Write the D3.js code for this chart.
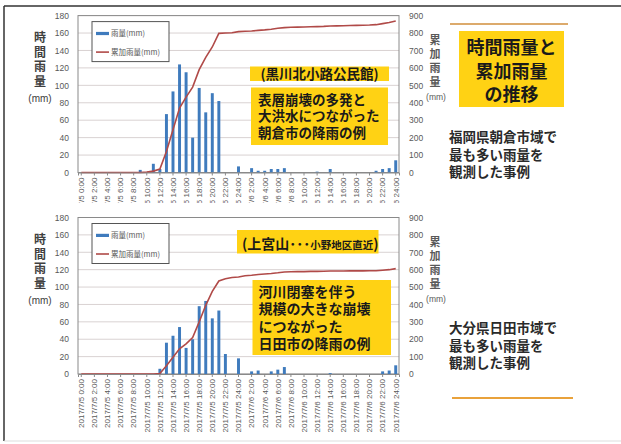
<!DOCTYPE html>
<html><head><meta charset="utf-8">
<script src="https://cdn.jsdelivr.net/npm/d3@7"></script>
<style>
html,body{margin:0;padding:0;background:#fff;}
svg{display:block;}
</style></head><body>
<svg id="c" width="621" height="444"></svg>
<script>
const categories = [
 "2017/7/5 0:00","2017/7/5 1:00","2017/7/5 2:00","2017/7/5 3:00","2017/7/5 4:00","2017/7/5 5:00","2017/7/5 6:00","2017/7/5 7:00",
 "2017/7/5 8:00","2017/7/5 9:00","2017/7/5 10:00","2017/7/5 11:00","2017/7/5 12:00","2017/7/5 13:00","2017/7/5 14:00","2017/7/5 15:00",
 "2017/7/5 16:00","2017/7/5 17:00","2017/7/5 18:00","2017/7/5 19:00","2017/7/5 20:00","2017/7/5 21:00","2017/7/5 22:00","2017/7/5 23:00",
 "2017/7/5 24:00","2017/7/6 1:00","2017/7/6 2:00","2017/7/6 3:00","2017/7/6 4:00","2017/7/6 5:00","2017/7/6 6:00","2017/7/6 7:00",
 "2017/7/6 8:00","2017/7/6 9:00","2017/7/6 10:00","2017/7/6 11:00","2017/7/6 12:00","2017/7/6 13:00","2017/7/6 14:00","2017/7/6 15:00",
 "2017/7/6 16:00","2017/7/6 17:00","2017/7/6 18:00","2017/7/6 19:00","2017/7/6 20:00","2017/7/6 21:00","2017/7/6 22:00","2017/7/6 23:00",
 "2017/7/6 24:00"
];
const tickLabels = [
 "2017/7/5 0:00","2017/7/5 2:00","2017/7/5 4:00","2017/7/5 6:00","2017/7/5 8:00","2017/7/5 10:00","2017/7/5 12:00",
 "2017/7/5 14:00","2017/7/5 16:00","2017/7/5 18:00","2017/7/5 20:00","2017/7/5 22:00","2017/7/5 24:00",
 "2017/7/6 2:00","2017/7/6 4:00","2017/7/6 6:00","2017/7/6 8:00","2017/7/6 10:00","2017/7/6 12:00",
 "2017/7/6 14:00","2017/7/6 16:00","2017/7/6 18:00","2017/7/6 20:00","2017/7/6 22:00","2017/7/6 24:00"
];
const leftTicks = [0,20,40,60,80,100,120,140,160,180];
const rightTicks = [0,100,200,300,400,500,600,700,800,900];
const seriesNames = ["雨量(mm)", "累加雨量(mm)"];

// 朝倉市 (黒川北小路公民館)
const asakuraRain = [0,0,0,0,0,0,0,0,0,3, 0,10,4,67,93,124,115,40,97,69, 91,82,0,0,7,0,5,2,2,4, 4,5,0,0,0,0,1,0,4,0, 0,0,0,0,0,2,4,5,14];
const asakuraCum  = [0,0,0,0,0,0,0,0,0,0, 2,8,20,120,245,370,432,490,590,660, 720,798,800,802,808,810,812,815,818,822, 827,831,833,834,835,836,837,838,840,841, 842,843,844,845,846,848,854,860,869];
// 日田市 (上宮山)
const hitaRain = [0,0,0,0,0,0,0,0,0,0, 0,0,6,36,44,54,30,40,78,84, 64,73,23,0,18,0,3,4,0,3, 5,8,0,0,0,0,0,0,1,0, 0,0,0,0,0,0,3,4,10];
const hitaCum  = [0,0,0,0,0,0,0,0,0,0, 0,0,3,48,96,145,173,210,300,395, 475,535,548,555,558,565,568,572,575,578, 582,587,588,589,589,590,590,591,592,592, 592,593,593,593,594,594,597,600,606];

const svg = d3.select("#c");
const JP = "'Noto Sans CJK JP','Noto Sans',sans-serif";
const NUM = "'Liberation Sans','DejaVu Sans',sans-serif";
const BAR = "#3f7bbd", LINE = "#b04a48", YEL = "#FFD214";

// outer frame
svg.append("line").attr("x1",4).attr("x2",621).attr("y1",6).attr("y2",6).attr("stroke","#333").attr("stroke-width",1.5);
svg.append("line").attr("x1",4).attr("x2",4).attr("y1",6).attr("y2",441).attr("stroke","#333").attr("stroke-width",1.5);
svg.append("line").attr("x1",4).attr("x2",621).attr("y1",441).attr("y2",441).attr("stroke","#ddd").attr("stroke-width",1);

const X0 = 78, X1 = 399;
const x = d3.scaleBand().domain(categories).range([X0, X1]).paddingInner(0.55).paddingOuter(0.275);
const cx = d => x(d) + x.bandwidth()/2;

const panels = [
  {rain: asakuraRain, cum: asakuraCum, top: 15.6, zero: 172.5, clipBottom: 203, id: "a"},
  {rain: hitaRain, cum: hitaCum, top: 217.5, zero: 374, clipBottom: 444, id: "b"}
];

panels.forEach(p => {
  const yL = d3.scaleLinear().domain([0,180]).range([p.zero, p.top]);
  const yR = d3.scaleLinear().domain([0,900]).range([p.zero, p.top]);
  const g = svg.append("g");
  // gridlines
  g.selectAll("line.grid").data(leftTicks).join("line")
    .attr("x1", X0).attr("x2", X1).attr("y1", d => yL(d)).attr("y2", d => yL(d))
    .attr("stroke", "#d9d2d2").attr("stroke-width", 1);
  // plot border
  g.append("rect").attr("x", X0).attr("y", p.top).attr("width", X1 - X0).attr("height", p.zero - p.top)
    .attr("fill", "none").attr("stroke", "#8a8a8a").attr("stroke-width", 1);
  // bars
  g.selectAll("rect.bar").data(p.rain.map((v,i)=>({v, c: categories[i]}))).join("rect")
    .attr("x", d => x(d.c)).attr("width", x.bandwidth())
    .attr("y", d => yL(d.v)).attr("height", d => p.zero - yL(d.v))
    .attr("fill", BAR);
  // cumulative line
  const line = d3.line().x((d,i)=>cx(categories[i])).y(d=>yR(d));
  g.append("path").datum(p.cum).attr("d", line).attr("fill","none").attr("stroke", LINE).attr("stroke-width", 1.6);
  // left axis
  const la = g.append("g").attr("transform", `translate(${X0},0)`)
    .call(d3.axisLeft(yL).tickValues(leftTicks).tickSize(0).tickPadding(9));
  la.select(".domain").remove();
  la.selectAll("text").attr("font-family", NUM).attr("font-size", 8.5).attr("fill", "#595959");
  // right axis
  const ra = g.append("g").attr("transform", `translate(${X1},0)`)
    .call(d3.axisRight(yR).tickValues(rightTicks).tickSize(0).tickPadding(10));
  ra.select(".domain").remove();
  ra.selectAll("text").attr("font-family", NUM).attr("font-size", 8.5).attr("fill", "#595959");
  // x axis (clipped for the upper panel)
  svg.append("clipPath").attr("id", "clip" + p.id).append("rect")
    .attr("x", 0).attr("y", 0).attr("width", 621).attr("height", p.clipBottom);
  const xg = svg.append("g").attr("clip-path", `url(#clip${p.id})`);
  const xa = xg.append("g").attr("transform", `translate(0,${p.zero})`)
    .call(d3.axisBottom(x).tickValues(tickLabels).tickSize(3));
  xa.select(".domain").attr("stroke", "#8a8a8a");
  xa.selectAll(".tick line").attr("stroke", "#8a8a8a");
  xa.selectAll("text").attr("transform", "rotate(-90)").attr("x", -5).attr("y", 0).attr("dy", "0.35em")
    .attr("text-anchor", "end").attr("font-family", NUM).attr("font-size", 8).attr("fill", "#595959");

  // legend
  const lg = g.append("g");
  lg.append("rect").attr("x", 92).attr("y", p.top + 6).attr("width", 77).attr("height", 40)
    .attr("fill", "#fff").attr("stroke", "#555").attr("stroke-width", 1);
  lg.append("rect").attr("x", 96).attr("y", p.top + 16.3).attr("width", 13).attr("height", 3.2).attr("fill", BAR);
  lg.append("line").attr("x1", 96).attr("x2", 109).attr("y1", p.top + 36.5).attr("y2", p.top + 36.5)
    .attr("stroke", LINE).attr("stroke-width", 1.6);
  lg.append("text").attr("x", 111).attr("y", p.top + 18).attr("dy", "0.35em").text(seriesNames[0])
    .attr("font-family", JP).attr("font-size", 7.5).attr("fill", "#595959");
  lg.append("text").attr("x", 111).attr("y", p.top + 36.5).attr("dy", "0.35em").text(seriesNames[1])
    .attr("font-family", JP).attr("font-size", 7.5).attr("fill", "#595959");

  // left axis title
  const lt = ["時","間","雨","量"], lo = [22, 37, 51.5, 66];
  lt.forEach((ch,i) => g.append("text").attr("x", 40).attr("y", p.top + lo[i]).attr("dy","0.35em")
    .attr("text-anchor","middle").attr("font-family", JP).attr("font-weight", 700).attr("font-size", 12)
    .attr("fill", "#404040").text(ch));
  g.append("text").attr("x", 40).attr("y", p.top + 82.5).attr("dy","0.35em").attr("text-anchor","middle")
    .attr("font-family", NUM).attr("font-size", 10).attr("fill", "#404040").text("(mm)");
  // right axis title
  const rt = ["累","加","雨","量"], ro = [24.5, 39, 53, 67];
  rt.forEach((ch,i) => g.append("text").attr("x", 435).attr("y", p.top + ro[i]).attr("dy","0.35em")
    .attr("text-anchor","middle").attr("font-family", JP).attr("font-weight", 700).attr("font-size", 11)
    .attr("fill", "#595959").text(ch));
  g.append("text").attr("x", 436).attr("y", p.top + 81.5).attr("dy","0.35em").attr("text-anchor","middle")
    .attr("font-family", NUM).attr("font-size", 8.5).attr("fill", "#595959").text("(mm)");
});

// annotation helper
function box(x0, y0, w, h) {
  svg.append("rect").attr("x", x0).attr("y", y0).attr("width", w).attr("height", h).attr("fill", YEL);
}
function lines(xp, ys, arr, size, opts = {}) {
  arr.forEach((t,i) => svg.append("text").attr("x", xp).attr("y", ys[i]).attr("dy", "0.35em")
    .attr("text-anchor", opts.anchor || "start").attr("font-family", JP).attr("font-weight", opts.weight || 700)
    .attr("font-size", size).attr("fill", opts.fill || "#1a1a1a").text(t));
}

// upper panel annotations
box(250, 66.5, 139, 14.5);
lines(319.5, [74], ["(黒川北小路公民館)"], 13.5, {anchor: "middle"});
box(251, 87.5, 137, 57.5);
lines(258, [100, 116.7, 133.3], ["表層崩壊の多発と", "大洪水につながった", "朝倉市の降雨の例"], 13.5);

// lower panel annotations
box(237, 230, 141.5, 23.5);
const t2 = svg.append("text").attr("x", 242).attr("y", 243).attr("dy", "0.35em")
  .attr("font-family", JP).attr("font-weight", 700).attr("fill", "#1a1a1a");
t2.append("tspan").attr("font-size", 14).text("(上宮山･･･");
t2.append("tspan").attr("font-size", 10.5).text("小野地区直近");
t2.append("tspan").attr("font-size", 14).text(")");
box(252.5, 280, 138.5, 75);
lines(258.5, [291.7, 309.5, 327, 344.5], ["河川閉塞を伴う", "規模の大きな崩壊", "につながった", "日田市の降雨の例"], 14);

// right side
svg.append("line").attr("x1", 450).attr("x2", 568).attr("y1", 24).attr("y2", 24).attr("stroke", "#dcaa6c").attr("stroke-width", 2);
box(459, 31, 105, 76);
lines(511.5, [47.3, 71.5, 94.5], ["時間雨量と", "累加雨量", "の推移"], 18, {anchor: "middle"});
lines(449, [137, 155, 172], ["福岡県朝倉市域で", "最も多い雨量を", "観測した事例"], 13.5, {fill: "#2a2a2a"});
lines(449, [328, 346, 363.5], ["大分県日田市域で", "最も多い雨量を", "観測した事例"], 13.5, {fill: "#2a2a2a"});
svg.append("line").attr("x1", 452).attr("x2", 573).attr("y1", 398).attr("y2", 398).attr("stroke", "#e9a23b").attr("stroke-width", 2);
</script>
</body></html>
